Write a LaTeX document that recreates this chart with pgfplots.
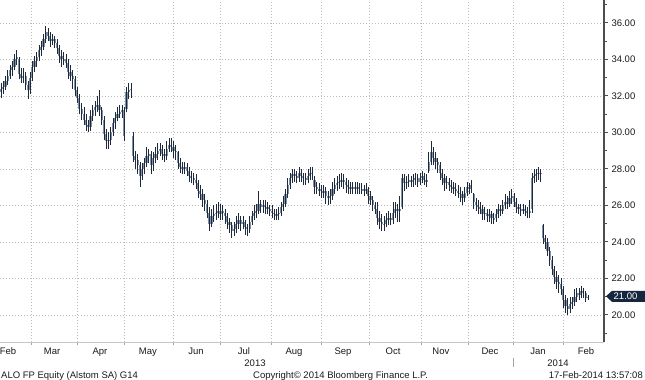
\documentclass[border=0pt]{standalone}
\usepackage{pgfplots}
\usepackage{pgfplotstable}
\pgfplotsset{compat=1.18}
\usepackage{fontspec}
\setmainfont{Liberation Sans}
\newcommand\lbl{\fontsize{9.5bp}{11bp}\selectfont}
\definecolor{wick}{HTML}{1E2A3A}
\definecolor{bodyc}{HTML}{7F91A8}
\definecolor{gridc}{HTML}{BDBDBD}
\definecolor{axisc}{HTML}{4D4D4D}
\definecolor{navy}{HTML}{15263F}
\definecolor{txt}{HTML}{1A1A1A}

\pgfplotstableread{
i o h l c
0 32.2 32.7 31.9 32.4
1 32.4 32.8 32.1 32.5
2 32.5 33.1 32.3 32.8
3 32.8 33.4 32.6 33.1
4 33.1 33.7 32.9 33.4
5 33.4 33.9 33.1 33.6
6 33.6 34.3 33.4 34.0
7 34.0 34.5 33.7 34.1
8 34.0 34.1 32.9 33.2
9 33.2 33.5 32.7 33.0
10 33.0 33.5 32.7 33.1
11 33.1 33.3 32.3 32.6
12 32.6 32.8 31.8 32.3
13 32.3 33.3 32.1 33.0
14 33.0 33.9 32.8 33.6
15 33.6 34.2 33.3 33.9
16 33.9 34.4 33.6 34.1
17 34.1 34.8 33.9 34.5
18 34.5 35.0 34.2 34.7
19 34.7 35.4 34.5 35.1
20 35.1 35.8 34.9 35.5
21 35.5 35.7 35.0 35.3
22 35.3 35.5 34.7 35.0
23 35.0 35.4 34.8 35.1
24 35.1 35.3 34.6 34.9
25 34.9 35.1 34.3 34.6
26 34.6 34.8 33.8 34.2
27 34.2 34.5 33.6 34.0
28 33.9 34.4 33.7 34.0
29 34.0 34.3 33.5 33.8
30 33.8 34.0 32.9 33.3
31 33.3 33.7 32.8 33.1
32 33.1 33.4 32.4 32.9
33 32.9 33.1 32.0 32.3
34 32.3 32.5 31.6 31.9
35 31.9 32.1 31.0 31.3
36 31.3 31.6 30.7 31.0
37 31.0 31.4 30.4 30.7
38 30.7 31.0 30.1 30.4
39 30.4 30.7 30.0 30.3
40 30.3 31.2 30.1 30.9
41 30.9 31.5 30.6 31.2
42 31.2 31.7 30.9 31.4
43 31.4 32.0 31.1 31.5
44 31.5 32.3 30.9 31.2
45 31.2 31.4 30.4 30.7
46 30.7 30.9 29.6 29.9
47 29.9 30.2 29.1 29.5
48 29.5 30.0 29.1 29.6
49 29.6 30.3 29.3 30.0
50 30.0 30.8 29.8 30.5
51 30.5 31.1 30.2 30.8
52 30.8 31.4 30.6 31.0
53 31.0 31.5 30.8 31.1
54 31.1 31.5 30.8 31.2
55 31.2 31.4 29.5 29.8
56 31.3 32.5 31.1 32.2
57 32.2 32.7 31.8 32.3
58 32.3 32.7 31.9 32.4
59 29.8 30.0 28.4 28.7
60 28.7 29.0 28.0 28.5
61 28.5 28.8 27.7 28.2
62 28.2 28.4 27.0 27.6
63 27.6 28.3 27.4 28.0
64 28.0 28.6 27.7 28.3
65 28.3 29.2 28.1 28.7
66 28.7 29.1 28.3 28.8
67 28.8 29.0 27.7 28.2
68 28.2 28.9 27.9 28.6
69 28.6 29.2 28.3 28.8
70 28.8 29.4 28.5 29.0
71 29.0 29.4 28.7 29.1
72 29.1 29.3 28.5 28.8
73 28.8 29.1 28.4 28.7
74 28.7 29.5 28.5 29.1
75 29.1 29.7 28.9 29.3
76 29.3 29.7 28.9 29.2
77 29.2 29.5 28.6 29.0
78 29.0 29.3 28.5 28.9
79 28.9 29.0 28.0 28.3
80 28.3 28.6 27.8 28.1
81 28.1 28.4 27.7 28.0
82 28.0 28.4 27.7 28.1
83 28.1 28.3 27.6 27.9
84 27.9 28.1 27.3 27.6
85 27.6 27.9 27.2 27.5
86 27.5 27.8 27.1 27.4
87 27.4 27.7 26.9 27.2
88 27.2 27.4 26.4 26.8
89 26.8 27.1 26.3 26.6
90 26.6 26.9 25.9 26.3
91 26.3 26.6 25.7 26.1
92 26.1 26.3 25.3 25.6
93 25.6 25.9 24.6 25.0
94 25.0 25.8 24.8 25.4
95 25.4 26.0 25.1 25.5
96 25.5 26.1 25.2 25.6
97 25.6 26.2 25.3 25.7
98 25.5 26.1 25.2 25.7
99 25.7 26.0 25.2 25.6
100 25.6 25.8 25.0 25.4
101 25.4 25.6 24.7 25.1
102 25.1 25.3 24.5 24.9
103 24.9 25.1 24.2 24.6
104 24.6 25.1 24.3 24.7
105 24.7 25.4 24.5 25.0
106 25.0 25.6 24.7 25.2
107 25.2 25.4 24.6 25.0
108 25.0 25.4 24.7 25.1
109 25.1 25.2 24.4 24.8
110 24.8 25.0 24.3 24.7
111 24.7 25.4 24.5 25.1
112 25.1 25.7 24.9 25.4
113 25.4 26.0 25.2 25.6
114 25.6 26.1 25.3 25.7
115 25.7 26.8 25.5 26.1
116 26.1 26.3 25.6 25.9
117 25.9 26.3 25.6 26.0
118 26.0 26.3 25.5 25.9
119 25.9 26.2 25.5 25.8
120 25.8 26.0 25.4 25.7
121 25.7 26.0 25.3 25.6
122 25.6 25.8 25.2 25.5
123 25.4 25.8 25.2 25.5
124 25.5 25.9 25.2 25.6
125 25.6 26.2 25.4 25.9
126 25.9 26.5 25.7 26.1
127 26.1 26.9 25.9 26.6
128 26.6 27.5 26.4 27.1
129 27.1 27.8 26.9 27.5
130 27.5 28.0 27.2 27.7
131 27.7 28.0 27.3 27.6
132 27.6 27.9 27.2 27.5
133 27.5 28.1 27.3 27.8
134 27.8 28.0 27.3 27.6
135 27.6 27.8 27.1 27.5
136 27.5 27.8 27.1 27.4
137 27.4 28.0 27.2 27.6
138 27.6 28.1 27.4 27.8
139 27.8 28.1 27.4 27.7
140 27.4 27.6 26.6 27.0
141 27.0 27.3 26.6 26.9
142 26.8 27.2 26.5 26.9
143 26.9 27.1 26.4 26.8
144 26.7 27.1 26.4 26.8
145 26.8 27.0 26.1 26.5
146 26.5 26.8 26.0 26.4
147 26.4 26.9 26.1 26.5
148 26.5 27.3 26.3 26.9
149 26.9 27.5 26.6 27.1
150 27.1 27.6 26.8 27.2
151 27.2 27.7 26.9 27.3
152 27.3 27.8 27.0 27.4
153 27.4 27.7 26.9 27.3
154 27.3 27.5 26.7 27.1
155 27.1 27.4 26.6 27.0
156 27.0 27.3 26.6 26.9
157 26.9 27.3 26.6 27.0
158 27.0 27.3 26.6 26.9
159 26.9 27.3 26.6 27.0
160 27.0 27.2 26.6 26.9
161 26.8 27.2 26.6 26.9
162 26.9 27.1 26.5 26.8
163 26.8 27.2 26.6 26.9
164 26.9 27.0 26.1 26.5
165 26.5 26.8 26.0 26.3
166 26.3 26.5 25.7 26.0
167 26.0 26.2 25.5 25.8
168 25.8 26.2 24.9 25.3
169 25.3 25.7 24.7 25.1
170 25.1 25.5 24.6 25.0
171 24.9 25.4 24.6 25.0
172 25.0 25.6 24.8 25.2
173 25.2 25.7 24.9 25.3
174 25.3 25.6 24.9 25.2
175 25.2 26.2 25.0 25.6
176 25.6 26.2 25.3 25.8
177 25.8 26.1 25.1 25.7
178 25.7 26.5 25.1 25.8
179 25.9 27.7 25.8 27.5
180 27.5 27.7 26.8 27.2
181 27.2 27.6 26.9 27.3
182 27.3 27.7 27.0 27.4
183 27.4 27.6 27.0 27.3
184 27.3 27.7 27.0 27.4
185 27.4 27.8 27.1 27.5
186 27.5 27.7 27.0 27.3
187 27.3 27.8 27.1 27.5
188 27.5 27.9 27.2 27.6
189 27.6 27.8 27.1 27.4
190 27.4 27.7 27.0 27.3
191 27.9 28.9 27.8 28.4
192 28.4 29.5 28.2 28.9
193 28.9 29.2 28.2 28.6
194 28.6 28.9 28.0 28.4
195 28.4 28.6 27.8 28.2
196 28.2 28.4 27.4 27.8
197 27.8 28.0 27.1 27.5
198 27.5 27.7 26.8 27.2
199 27.2 27.6 26.9 27.3
200 27.3 27.5 26.8 27.1
201 27.1 27.4 26.7 27.0
202 27.0 27.3 26.6 26.9
203 26.9 27.2 26.5 26.8
204 26.8 27.1 26.4 26.7
205 26.7 27.0 26.2 26.6
206 26.6 26.8 26.0 26.4
207 26.4 27.0 26.2 26.7
208 26.7 27.3 26.5 27.0
209 27.0 27.2 26.6 26.9
210 26.9 27.4 26.7 27.1
211 26.6 26.7 25.8 26.2
212 26.2 26.4 25.7 26.0
213 26.0 26.3 25.5 25.9
214 25.9 26.2 25.5 25.8
215 25.8 26.0 25.2 25.5
216 25.5 25.9 25.2 25.6
217 25.6 25.8 25.1 25.4
218 25.4 25.8 25.1 25.5
219 25.5 25.7 25.0 25.3
220 25.2 25.6 25.0 25.3
221 25.3 25.8 25.1 25.5
222 25.5 26.1 25.3 25.8
223 25.8 26.0 25.4 25.7
224 25.7 26.3 25.5 26.0
225 26.0 26.6 25.8 26.2
226 26.2 26.5 25.8 26.1
227 26.1 26.8 25.9 26.4
228 26.4 26.9 26.1 26.5
229 26.5 26.7 25.9 26.2
230 26.2 26.4 25.6 25.9
231 25.9 26.1 25.5 25.8
232 25.8 26.1 25.4 25.7
233 25.7 26.1 25.5 25.8
234 25.8 26.0 25.4 25.7
235 25.7 25.9 25.3 25.6
236 25.6 26.3 25.3 25.7
237 25.8 27.8 25.6 27.5
238 27.5 28.0 27.2 27.6
239 27.6 28.0 27.3 27.7
240 27.7 28.1 27.4 27.8
241 27.8 28.0 27.3 27.7
242 24.9 25.0 23.9 24.2
243 24.2 24.4 23.6 24.0
244 24.0 24.2 23.2 23.5
245 23.5 23.7 22.7 23.0
246 23.0 23.2 22.2 22.5
247 22.5 22.7 21.7 22.1
248 22.1 22.4 21.4 21.8
249 21.8 22.2 21.2 21.7
250 21.7 22.0 21.1 21.4
251 21.4 21.6 20.4 20.8
252 20.8 21.1 20.1 20.5
253 20.5 20.9 20.0 20.3
254 20.3 21.0 20.1 20.6
255 20.6 21.0 20.3 20.7
256 20.7 21.4 20.5 21.0
257 21.0 21.5 20.7 21.2
258 21.2 21.5 20.8 21.1
259 21.1 21.6 20.9 21.3
260 21.3 21.5 20.9 21.2
261 21.2 21.3 20.7 20.9
262 20.9 21.1 20.8 21.0
}\ohlc

\begin{document}
\begin{tikzpicture}
\useasboundingbox (0,-38bp) rectangle (645bp,342bp);
\begin{axis}[
  at={(0,0)}, anchor=south west,
  scale only axis, width=604bp, height=342bp,
  xmin=-0.446, xmax=269.2, ymin=18.515, ymax=37.25,
  axis x line*=bottom, axis y line*=right,
  x axis line style={-, draw=gray!45, line width=0.5bp},
  y axis line style={-, draw=axisc, line width=1.3bp},
  tick align=outside,
  major tick length=4bp, minor tick length=2.5bp,
  xtick={3.1,22.8,44.2,65.6,87.1,108.5,130.8,152.7,175,196.4,218.3,239.7,261.2},
  xticklabels={Feb,Mar,Apr,May,Jun,Jul,Aug,Sep,Oct,Nov,Dec,Jan,Feb},
  minor xtick={13.7,33.9,54.9,76.8,97.8,120.5,142.9,164.3,187.5,208.5,228.6,250.9},
  major x tick style={draw=none},
  minor x tick style={draw=gray!70, line width=0.6bp},
  xmajorgrids=false, xminorgrids=true, ymajorgrids=true,
  grid style={draw=gridc, line width=0.6bp, dash pattern=on 1bp off 2bp},
  minor grid style={draw=gridc, line width=0.6bp, dash pattern=on 1bp off 2bp},
  ytick={20,22,...,36},
  minor ytick={19,21,...,37},
  major y tick style={draw=axisc, line width=0.8bp},
  minor y tick style={draw=axisc, line width=0.8bp},
  xticklabel style={font=\lbl, text=txt, anchor=base, yshift=-8bp},
  yticklabel style={font=\lbl, text=txt, anchor=west,
    /pgf/number format/fixed, /pgf/number format/fixed zerofill,
    /pgf/number format/precision=2, /pgf/number format/assume math mode=true},
  clip=true,
]
\addplot[draw=none, mark=none, forget plot,
  error bars/.cd, y dir=plus, y explicit, error mark=none,
  error bar style={draw=bodyc, line width=2.2bp, line cap=butt}]
  table[x=i, y expr={min(\thisrow{o},\thisrow{c})}, y error expr={abs(\thisrow{c}-\thisrow{o})}] {\ohlc};
\addplot[draw=none, mark=none, forget plot,
  error bars/.cd, y dir=plus, y explicit, error mark=none,
  error bar style={draw=wick, line width=0.75bp, line cap=butt}]
  table[x=i, y=l, y error expr=\thisrow{h}-\thisrow{l}] {\ohlc};
\end{axis}
% last price marker
\fill[navy] (606bp,45.7bp) -- (612bp,51.2bp) -- (645bp,51.2bp) -- (645bp,40.2bp) -- (612bp,40.2bp) -- cycle;
\node[white, anchor=west, font=\lbl, inner sep=0pt] at (613.5bp,45.7bp) {21.00};
% years
\node[font=\lbl, text=txt, anchor=base, inner sep=0pt] at (255bp,-24.5bp) {2013};
\node[font=\lbl, text=txt, anchor=base, inner sep=0pt] at (558bp,-24.5bp) {2014};
\draw[gray!70, line width=0.6bp] (513bp,-16bp) -- (513bp,-25bp);
% footer
\node[font=\lbl, text=txt, anchor=base west, inner sep=0pt] at (1bp,-36bp) {ALO FP Equity (Alstom SA) G14};
\node[font=\lbl, text=txt, anchor=base west, inner sep=0pt] at (253bp,-36bp) {Copyright© 2014 Bloomberg Finance L.P.};
\node[font=\lbl, text=txt, anchor=base east, inner sep=0pt] at (643bp,-36bp) {17-Feb-2014 13:57:08};
\end{tikzpicture}
\end{document}
